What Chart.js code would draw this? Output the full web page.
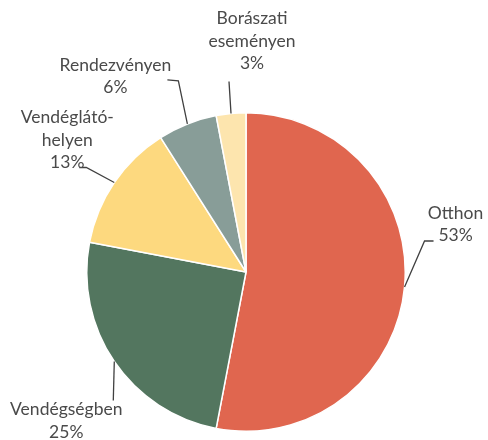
<!DOCTYPE html>
<html>
<head>
<meta charset="utf-8">
<script src="https://cdn.jsdelivr.net/npm/chart.js@4"></script>
<style>
  html, body { margin: 0; padding: 0; background: #fff; }
  #wrap { width: 488px; height: 440px; position: relative; }
</style>
</head>
<body>
<div id="wrap"><canvas id="pie"></canvas></div>
<script>
const labels = [['Otthon'], ['Vendégségben'], ['Vendéglátó-', 'helyen'], ['Rendezvényen'], ['Borászati', 'eseményen']];
const shares = [53, 25, 13, 6, 3];
const colors = ['#E0664F', '#53765F', '#FDD97F', '#889D98', '#FDE5AE'];

// label placement relative to the slice's outer mid point (text line 1 centre, leader elbow, leader end)
const labelLayout = [
    { text: [51, -74], elbow: [20, -46], end: [29, -46] },
    { text: [-48, 48], elbow: [-1, 39], end: [-1, 39] },
    { text: [-47, -65], elbow: [-28, -15], end: [-35, -15] },
    { text: [-72, -59], elbow: [-9, -43], end: [-20, -44] },
    { text: [21, -95], elbow: [-2, -32], end: [-2, -32] }
];

const outsideLabels = {
    id: 'outsideLabels',
    afterDatasetsDraw(chart) {
        const ctx = chart.ctx;
        const meta = chart.getDatasetMeta(0);
        ctx.save();
        meta.data.forEach((arc, i) => {
            const p = arc.getProps(['x', 'y', 'startAngle', 'endAngle', 'outerRadius'], true);
            const mid = (p.startAngle + p.endAngle) / 2;
            const ex = p.x + Math.cos(mid) * p.outerRadius;
            const ey = p.y + Math.sin(mid) * p.outerRadius;
            const lay = labelLayout[i];

            ctx.strokeStyle = '#404040';
            ctx.lineWidth = 1.3;
            ctx.beginPath();
            ctx.moveTo(ex, ey);
            ctx.lineTo(ex + lay.elbow[0], ey + lay.elbow[1]);
            ctx.lineTo(ex + lay.end[0], ey + lay.end[1]);
            ctx.stroke();

            const lines = labels[i].concat([shares[i] + '%']);
            ctx.fillStyle = '#4a4a4a';
            ctx.font = '17.5px Lato';
            ctx.textAlign = 'center';
            ctx.textBaseline = 'middle';
            lines.forEach((t, k) => {
                ctx.fillText(t, ex + lay.text[0], ey + lay.text[1] + k * 22.5);
            });
        });
        ctx.restore();
    }
};

const ctx = document.getElementById('pie').getContext('2d');
const pieChart = new Chart(ctx, {
    type: 'pie',
    data: {
        labels: labels.map(l => l.join(' ')),
        datasets: [{
            data: shares,
            backgroundColor: colors,
            borderColor: '#ffffff',
            borderWidth: 1.5
        }]
    },
    options: {
        responsive: true,
        maintainAspectRatio: false,
        animation: false,
        layout: {
            padding: { top: 112, bottom: 8, left: 86, right: 82 }
        },
        plugins: {
            legend: { display: false },
            tooltip: { enabled: false }
        }
    },
    plugins: [outsideLabels]
});
</script>
</body>
</html>
